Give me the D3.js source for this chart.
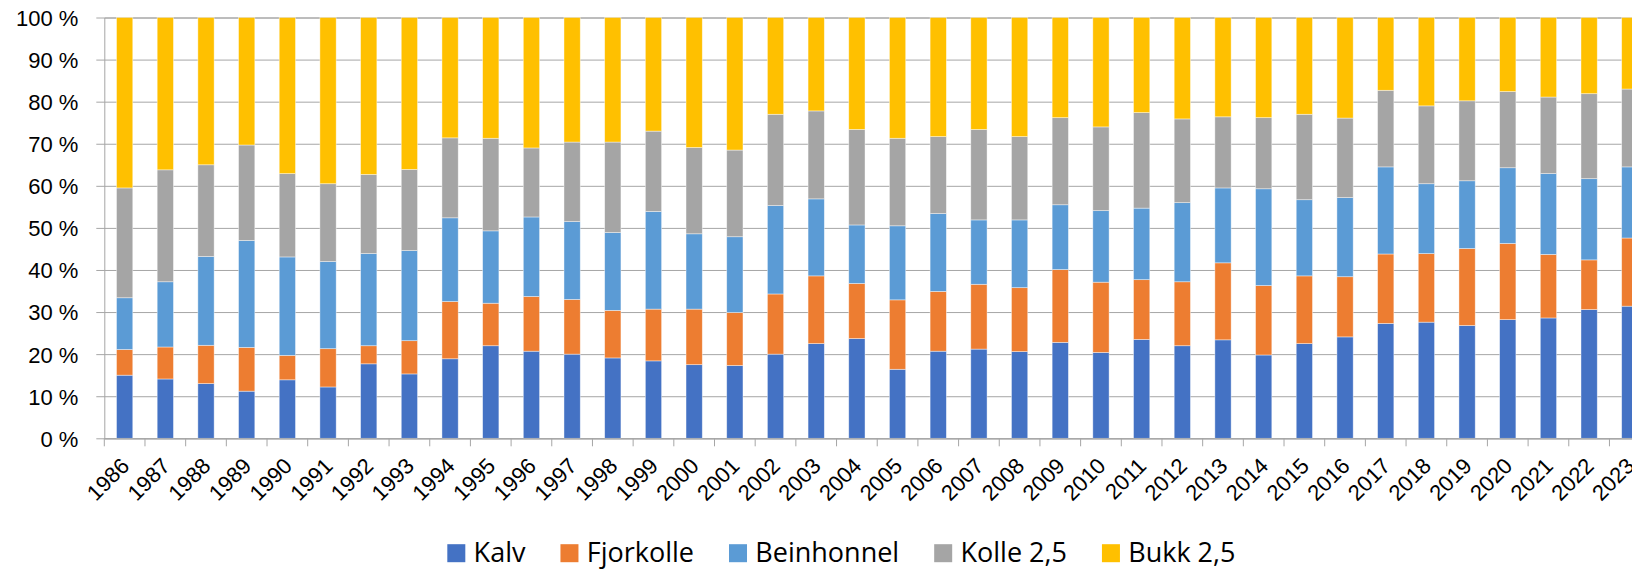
<!DOCTYPE html>
<html>
<head>
<meta charset="utf-8">
<script src="https://cdn.jsdelivr.net/npm/d3@7"></script>
<style>
  body { margin: 0; background: #fff; }
  svg { display: block; font-family: "Open Sans", sans-serif; }
</style>
</head>
<body>
<div id="chart"></div>
<script>
const width = 1632;
const height = 569;

// years on the x axis
const years = d3.range(1986, 2024).map(String);

// share of each group per year, in percent
const kalv = [15.0,14.1,13.0,11.2,13.9,12.2,17.7,15.3,18.9,22.0,20.7,20.0,19.1,18.4,17.5,17.3,20.0,22.5,23.7,16.4,20.7,21.2,20.6,22.8,20.4,23.5,22.0,23.4,19.8,22.5,24.1,27.3,27.6,26.8,28.2,28.6,30.6,31.4];
const fjorkolle = [6.1,7.6,9.1,10.4,5.8,9.1,4.3,7.9,13.6,10.1,13.0,13.0,11.3,12.3,13.2,12.6,14.3,16.1,13.1,16.5,14.2,15.4,15.2,17.3,16.7,14.2,15.2,18.3,16.5,16.1,14.3,16.5,16.3,18.3,18.1,15.1,11.8,16.2];
const beinhonnel = [12.3,15.5,21.1,25.4,23.4,20.7,21.9,21.4,19.9,17.2,18.9,18.5,18.5,23.2,17.9,18.0,21.0,18.3,13.9,17.6,18.5,15.3,16.1,15.4,17.0,17.0,18.8,17.8,23.0,18.1,18.8,20.7,16.6,16.1,18.0,19.2,19.3,16.9];
const kolle = [26.1,26.6,21.8,22.7,19.8,18.5,18.8,19.3,19.0,22.0,16.4,18.9,21.5,19.1,20.5,20.6,21.7,20.9,22.7,20.8,18.3,21.5,19.8,20.7,19.9,22.7,19.9,16.9,16.9,20.3,18.9,18.2,18.5,19.0,18.1,18.2,20.2,18.5];
const bukk = [40.5,36.2,35.0,30.3,37.1,39.5,37.3,36.1,28.6,28.7,31.0,29.6,29.6,27.0,30.9,31.5,23.0,22.2,26.6,28.7,28.3,26.6,28.3,23.8,26.0,22.6,24.1,23.6,23.8,23.0,23.9,17.3,21.0,19.8,17.6,18.9,18.1,17.0];

const seriesNames = ["Kalv", "Fjorkolle", "Beinhonnel", "Kolle 2,5", "Bukk 2,5"];
const seriesColors = ["#4472C4", "#ED7D31", "#5B9BD5", "#A5A5A5", "#FFC000"];
const yTicks = d3.range(0, 1.0001, 0.1);

const seriesValues = [kalv, fjorkolle, beinhonnel, kolle, bukk];
const table = years.map((yr, i) => {
    const row = { year: yr };
    seriesNames.forEach((s, k) => row[s] = seriesValues[k][i]);
    return row;
});

const stacked = d3.stack()
    .keys(seriesNames)
    .offset(d3.stackOffsetExpand)(table);

// plot area (the chart is wider than the window, the last bar is cut off)
const plotLeft = 104.3;
const plotStep = 40.68;
const plotTop = 17.5;
const plotBottom = 438.3;

const x = d3.scaleBand()
    .domain(years)
    .range([plotLeft, plotLeft + plotStep * years.length])
    .paddingInner(0.6)
    .paddingOuter(0.3);

const y = d3.scaleLinear()
    .domain([0, 1])
    .range([plotBottom, plotTop]);

const color = d3.scaleOrdinal().domain(seriesNames).range(seriesColors);

const svg = d3.select("#chart")
    .append("svg")
    .attr("width", width)
    .attr("height", height);

const plotW = x.range()[1] - plotLeft;

// y axis with gridlines
const yAxis = svg.append("g")
    .attr("transform", `translate(${plotLeft},0)`)
    .call(d3.axisLeft(y)
        .tickValues(yTicks)
        .tickSize(-plotW)
        .tickPadding(26)
        .tickFormat(d => Math.round(d * 100) + " %"));

yAxis.select(".domain").attr("stroke", "#a6a6a6");
yAxis.selectAll(".tick line")
    .attr("x1", -8)
    .attr("stroke", "#a6a6a6")
    .attr("stroke-width", 1);
yAxis.selectAll(".tick text")
    .attr("font-size", 22)
    .attr("fill", "#000")
    .attr("dy", "0.36em");

// bars
svg.append("g")
    .selectAll("g")
    .data(stacked)
    .join("g")
    .attr("fill", d => color(d.key))
    .selectAll("rect")
    .data(d => d)
    .join("rect")
    .attr("x", d => x(d.data.year))
    .attr("width", x.bandwidth())
    .attr("y", d => y(d[1]))
    .attr("height", d => y(d[0]) - y(d[1]))
    .attr("stroke", "#fff")
    .attr("stroke-opacity", 0.55)
    .attr("stroke-width", 0.75);

// x axis
const xAxis = svg.append("g")
    .attr("transform", `translate(0,${plotBottom})`)
    .call(d3.axisBottom(x).tickSize(0).tickSizeOuter(0));

xAxis.select(".domain").attr("stroke", "#a6a6a6").attr("stroke-width", 1);

xAxis.selectAll(".tick text")
    .attr("font-size", 22)
    .attr("fill", "#000")
    .attr("text-anchor", "end")
    .attr("y", 0)
    .attr("dy", 0)
    .attr("transform", "translate(6,29) rotate(-45)");

// tick marks at the band edges
svg.append("g")
    .selectAll("line")
    .data(d3.range(years.length + 1))
    .join("line")
    .attr("x1", i => plotLeft + i * x.step())
    .attr("x2", i => plotLeft + i * x.step())
    .attr("y1", plotBottom)
    .attr("y2", plotBottom + 8)
    .attr("stroke", "#a6a6a6");

// legend
const legend = svg.append("g");
const items = legend.selectAll("g")
    .data(seriesNames)
    .join("g");

items.append("rect")
    .attr("width", 18)
    .attr("height", 18)
    .attr("y", -17.5)
    .attr("fill", d => color(d));

items.append("text")
    .attr("x", 26.3)
    .attr("font-size", 27)
    .attr("fill", "#000")
    .text(d => d);

let pos = 0;
items.each(function() {
    const g = d3.select(this);
    g.attr("transform", `translate(${pos},0)`);
    pos += 26.3 + g.select("text").node().getComputedTextLength() + 35;
});
const legendW = pos - 35;
legend.attr("transform", `translate(${841.4 - legendW / 2},561.7)`);
</script>
</body>
</html>
